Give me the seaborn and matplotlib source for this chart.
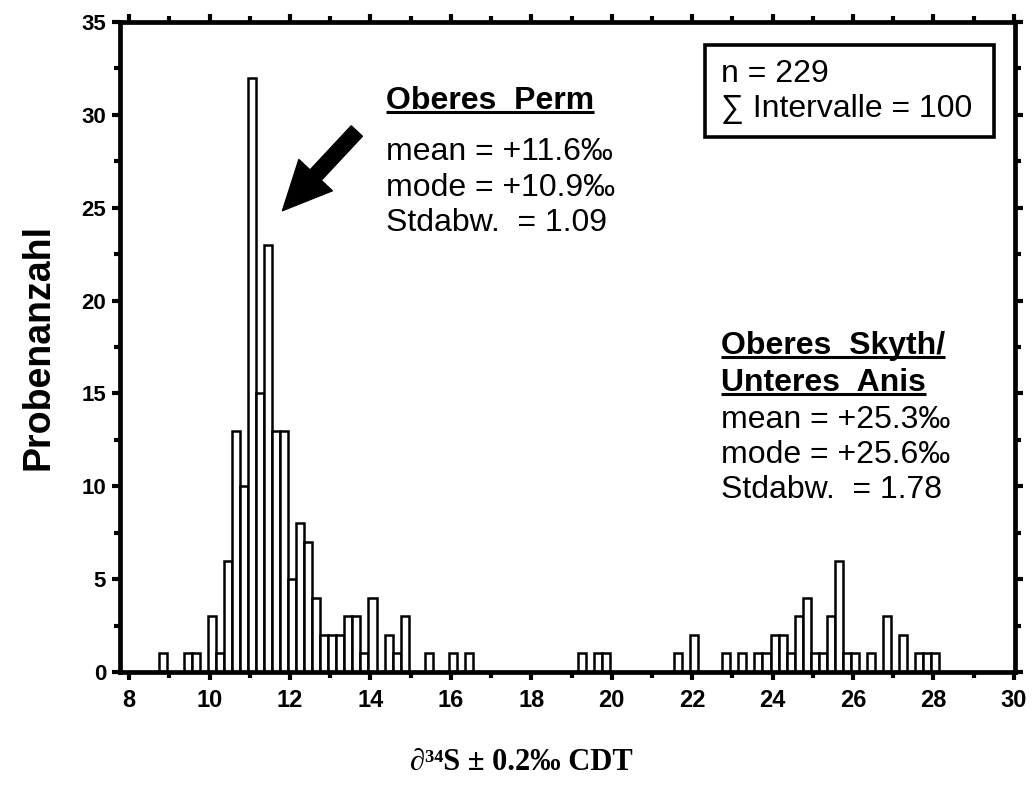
import numpy as np
import pandas as pd
import seaborn as sns
import matplotlib.pyplot as plt
from matplotlib.patches import Rectangle

# histogram bins: 0.2 wide, starting at 8.75 (per mil)
bin_start = 8.75
bin_width = 0.2
counts = [
    1, 0, 0, 1, 1, 0, 3, 1, 6, 13,
    10, 32, 15, 23, 13, 13, 5, 8, 7, 4,
    2, 2, 2, 3, 3, 1, 4, 0, 2, 1,
    3, 0, 0, 1, 0, 0, 1, 0, 1, 0,
    0, 0, 0, 0, 0, 0, 0, 0, 0, 0,
    0, 0, 1, 0, 1, 1, 0, 0, 0, 0,
    0, 0, 0, 0, 1, 0, 2, 0, 0, 0,
    1, 0, 1, 0, 1, 1, 2, 2, 1, 3,
    4, 1, 1, 3, 6, 1, 1, 0, 1, 0,
    3, 0, 2, 0, 1, 1, 1,
]

x_ticks = [8, 10, 12, 14, 16, 18, 20, 22, 24, 26, 28, 30]
y_ticks = [0, 5, 10, 15, 20, 25, 30, 35]

perm_title = "Oberes  Perm"
perm_stats = ["mean = +11.6‰", "mode = +10.9‰", "Stdabw.  = 1.09"]
skyth_title = ["Oberes  Skyth/", "Unteres  Anis"]
skyth_stats = ["mean = +25.3‰", "mode = +25.6‰", "Stdabw.  = 1.78"]
box_lines = ["n = 229", "∑ Intervalle = 100"]

edges = [bin_start + bin_width * i for i in range(len(counts) + 1)]
df = pd.DataFrame({"d34S": [e + bin_width / 2 for e in edges[:-1]], "n": counts})

sns.set_style("ticks")
plt.rcParams["font.family"] = ["Liberation Sans", "DejaVu Sans"]
for key in ["text.color", "axes.labelcolor", "xtick.color", "ytick.color"]:
    plt.rcParams[key] = "black"

fig = plt.figure(figsize=(10.32, 7.86), dpi=100)
ax = fig.add_axes([0.1163, 0.145, 0.8672, 0.827])

sns.histplot(data=df, x="d34S", weights="n", bins=edges, ax=ax,
             color="white", edgecolor="black", linewidth=1.8, alpha=1)

ax.set_xlim(7.77, 30.03)
ax.set_ylim(0, 35)
ax.set_xticks(x_ticks)
ax.set_xticks(np.arange(8, 31, 1), minor=True)
ax.set_yticks(y_ticks)
ax.set_yticks(np.arange(0, 35.1, 2.5), minor=True)
ax.set_xticklabels([str(t) for t in x_ticks], fontsize=17, fontweight="bold")
ax.set_yticklabels([str(t) for t in y_ticks], fontsize=16, fontweight="bold")

for s in ax.spines.values():
    s.set_visible(True)
    s.set_linewidth(3.4)
    s.set_color("black")

ax.tick_params(axis="x", which="both", direction="out", length=6, width=3,
               top=True, pad=6)
ax.tick_params(axis="y", which="both", direction="out", length=6, width=3,
               right=True, pad=4)
ax.tick_params(which="minor", length=4, width=3)

ax.set_ylabel("Probenanzahl", fontsize=27, fontweight="bold", labelpad=18)
ax.set_xlabel("∂³⁴S ± 0.2‰ CDT", fontsize=22, fontweight="bold",
              family=["Liberation Serif", "DejaVu Serif"], labelpad=26)
ax.xaxis.label.set_x(0.449)

# annotations
fs = 23
t1 = ax.text(14.39, 30.75, perm_title, fontsize=fs, fontweight="bold", va="center")
for i, line in enumerate(perm_stats):
    ax.text(14.39, 28.0 - 1.92 * i, line, fontsize=fs, va="center")

t2 = ax.text(22.71, 17.56, skyth_title[0], fontsize=fs, fontweight="bold", va="center")
t3 = ax.text(22.71, 15.56, skyth_title[1], fontsize=fs, fontweight="bold", va="center")
for i, line in enumerate(skyth_stats):
    ax.text(22.71, 13.57 - 1.89 * i, line, fontsize=fs, va="center")

ax.text(22.71, 32.22, box_lines[0], fontsize=fs, va="center")
ax.text(22.71, 30.33, box_lines[1], fontsize=fs, va="center")
ax.add_patch(Rectangle((22.32, 28.83), 7.19, 4.93, fill=False, ec="black",
                       lw=2.6, clip_on=False))

ax.annotate("", xy=(11.81, 24.84), xytext=(13.66, 29.13),
            arrowprops=dict(facecolor="black", edgecolor="black", width=11,
                            headwidth=33, headlength=35, shrink=0))

# underline the bold titles
fig.canvas.draw()
renderer = fig.canvas.get_renderer()
inv = ax.transData.inverted()
for t in (t1, t2, t3):
    bb = t.get_window_extent(renderer)
    yl = bb.y0 + 0.14 * bb.height
    (xa, ya), (xb, yb) = inv.transform([(bb.x0, yl), (bb.x1, yl)])
    ax.plot([xa, xb], [ya, yb], color="black", lw=2.2, clip_on=False,
            solid_capstyle="butt")

plt.savefig("out.png", dpi=100)
